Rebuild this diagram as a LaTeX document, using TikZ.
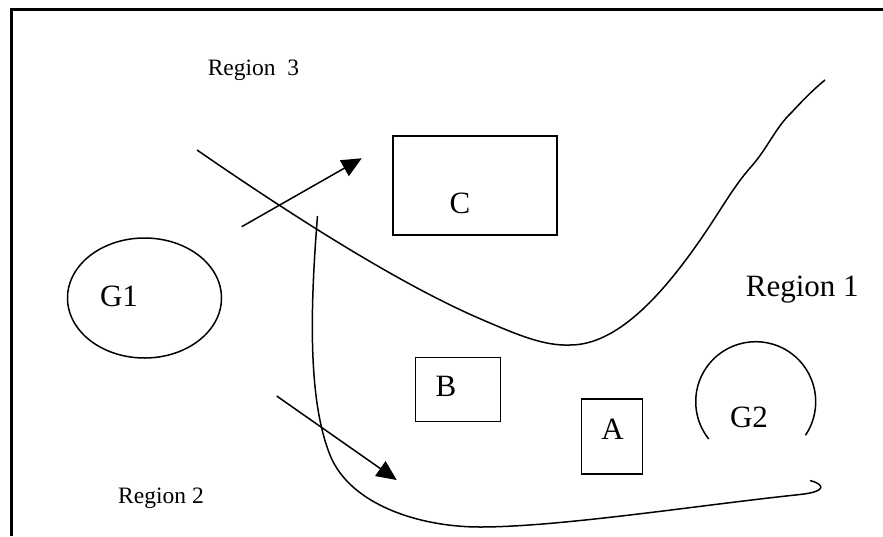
\documentclass[tikz,border=0pt]{standalone}
\usepackage{fontspec}
\setmainfont{Liberation Serif}
\usetikzlibrary{arrows.meta,scopes,shapes.geometric}

\begin{document}
\begin{tikzpicture}[x=1pt, y=-1pt, line width=1.5pt]
    \useasboundingbox (0,0) rectangle (883,536);
    \draw[line width=2.2pt] (11.5,536) -- (11.5,9.5) -- (883,9.5);
    {[every node/.style={draw, inner sep=0pt}]
    \node[minimum width=164pt, minimum height=99pt] (C-box) at (475,185.5) {};
    \node[minimum width=85pt, minimum height=64pt] (B-box) at (458,389.7) {};
    \node[minimum width=60.6pt, minimum height=75pt] (A-box) at (612,436.5) {};
    \node[ellipse, minimum width=154pt, minimum height=120pt] (G1-ring) at (144.5,298) {};
    }
    {[every node/.style={anchor=base, inner sep=0pt, font=\fontsize{31}{31}\selectfont}]
    \node (C) at (460,213) {C};
    \node (B) at (446,396.7) {B};
    \node (A) at (612.5,439.3) {A};
    \node (G1) at (119,306.7) {G1};
    \node (G2) at (749,427.7) {G2};
    \node (R1) at (802.3,296) {Region 1};
    }
    {[every node/.style={anchor=base, inner sep=0pt, font=\fontsize{23.5}{23.5}\selectfont}]
    \node (R3) at (253.5,75) {Region\ \ 3};
    \node (R2) at (161,503.3) {Region 2};
    }
    \coordinate (G2-centre) at (755.7,401.7);
    \draw ([shift={(-34:60pt)}]G2-centre) arc[start angle=-34, end angle=218.5, radius=60pt];
    \draw (197,150) .. controls (297,219) and (403,286) .. (483,320)
      .. controls (520,336) and (545,346) .. (570,345)
      .. controls (615,345) and (660,300) .. (707,230)
      .. controls (723,206) and (735,185) .. (750,168)
      .. controls (768,148) and (775,128) .. (792,112)
      .. controls (803,100) and (815,88) .. (825,80);
    \draw (317.5,216) .. controls (310,310) and (308,400) .. (330,455)
      .. controls (350,505) and (420,527) .. (480,527)
      .. controls (560,527) and (700,505) .. (800,494.5)
      .. controls (828,491.5) and (824,484) .. (810,480.5);
    \coordinate (in-top) at (241.7,226.7);
    \coordinate (out-top) at (361.7,158.3);
    \coordinate (in-low) at (276.7,396);
    \coordinate (out-low) at (396.7,480);
    {[-{Triangle[length=20pt, width=18pt]}]
      \draw (in-top) -- (out-top);
      \draw (in-low) -- (out-low);
    }
\end{tikzpicture}
\end{document}
